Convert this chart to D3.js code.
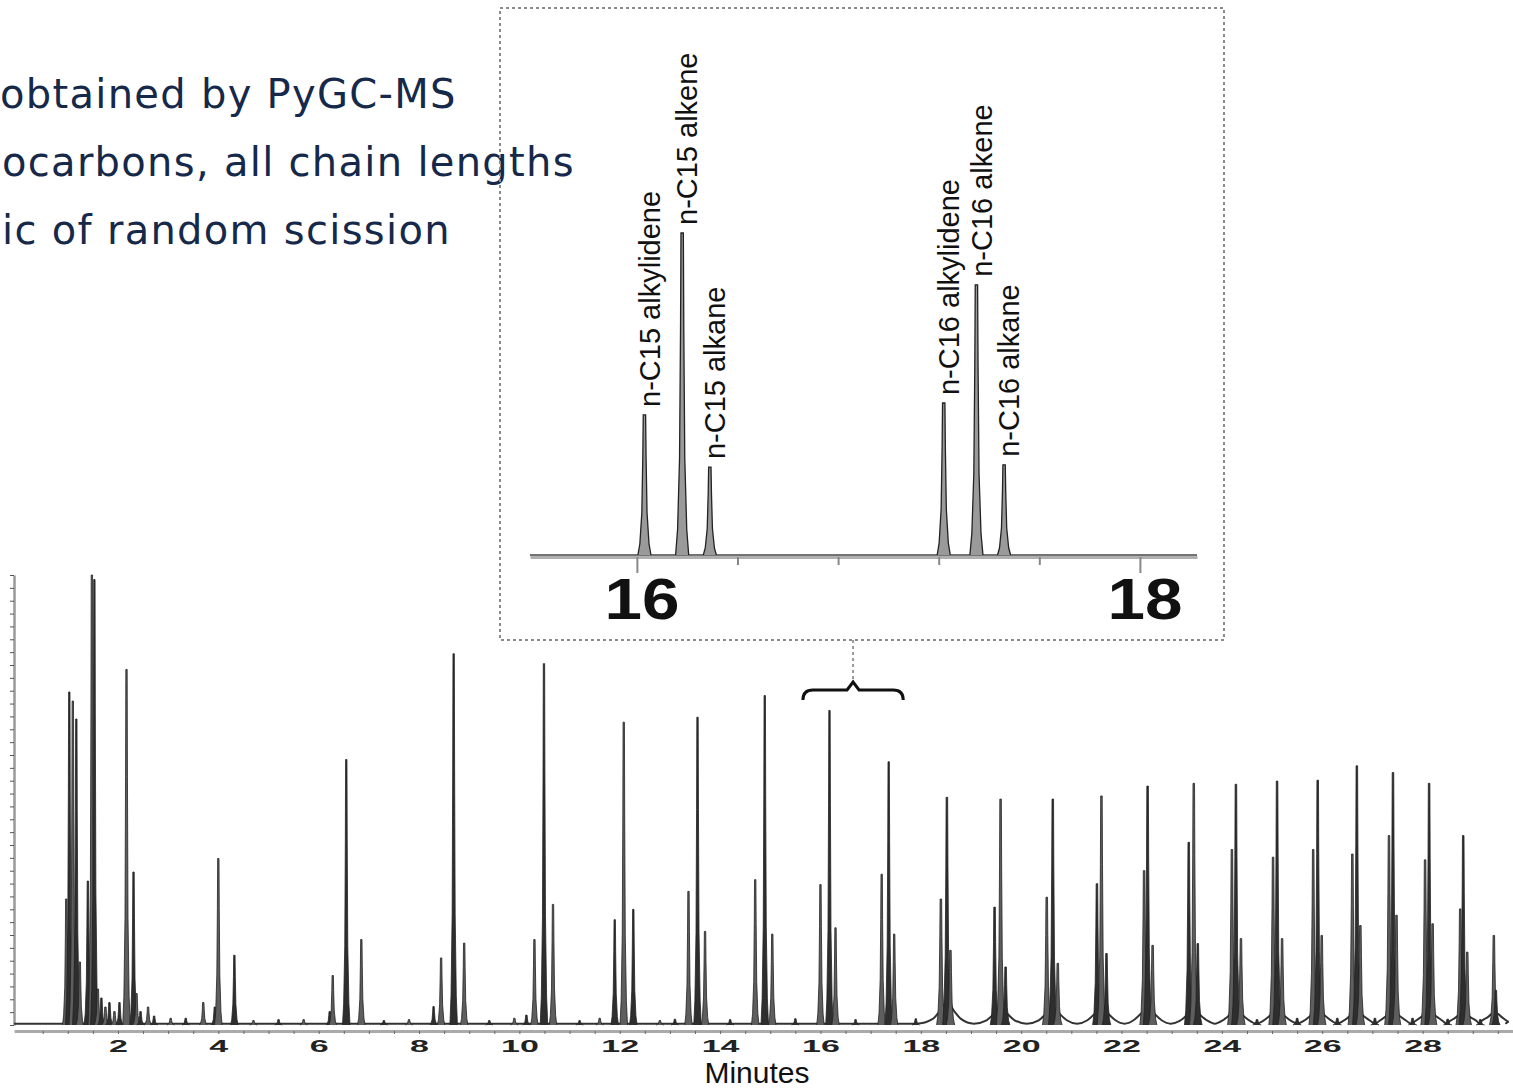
<!DOCTYPE html>
<html>
<head>
<meta charset="utf-8">
<script src="https://cdn.jsdelivr.net/npm/d3@7"></script>
<style>
body { margin: 0; background: #fff; }
svg { display: block; }
</style>
</head>
<body>
<div id="vis"></div>
<script>
const FRAME_WIDTH = 1513;
const FRAME_HEIGHT = 1089;

// slide caption (cropped on the left in the source)
const captionLines = ['obtained by PyGC-MS', 'ocarbons, all chain lengths', 'ic of random scission'];

// main pyrogram: retention time (min) and relative intensity (%)
const peakTimes = [
	0.97, 1.03, 1.10, 1.17, 1.24, 1.40, 1.48, 1.53, 1.60, 1.67, 1.75, 1.83, 1.93, 2.03,
	2.17, 2.31, 2.37, 2.45, 2.60, 2.72, 3.05, 3.35, 3.70, 3.93, 4.00, 4.32, 4.70, 5.20, 5.70,
	6.22, 6.28, 6.55, 6.85, 7.30, 7.80,
	8.29, 8.44, 8.69, 8.90, 9.40, 9.90,
	10.14, 10.30, 10.49, 10.67, 11.20, 11.60,
	11.90, 12.08, 12.27, 12.80, 13.10,
	13.37, 13.55, 13.70, 14.20,
	14.70, 14.89, 15.04, 15.50,
	16.00, 16.18, 16.30, 16.70,
	17.22, 17.36, 17.47, 17.90,
	18.40, 18.52, 18.59,
	19.47, 19.59, 19.69,
	20.51, 20.63, 20.73,
	21.51, 21.60, 21.70,
	22.45, 22.52, 22.62,
	23.34, 23.44, 23.52,
	24.20, 24.28, 24.38, 24.70,
	25.02, 25.10, 25.20, 25.50,
	25.82, 25.91, 25.99, 26.30,
	26.60, 26.69, 26.76, 27.05,
	27.33, 27.41, 27.48, 27.80,
	28.05, 28.13, 28.20, 28.50,
	28.75, 28.81, 28.89, 29.15,
	29.42, 29.46
];
const peakHeights = [
	28, 74, 72, 68, 14, 32, 100, 99, 8, 6, 4, 5, 3, 5,
	79, 34, 7, 3, 4, 2, 1.5, 1.5, 5, 4, 37, 15.5, 1, 1.2, 1.2,
	3, 11, 59, 19, 1, 1.2,
	4.1, 14.9, 82.5, 18.2, 1, 1.5,
	2.2, 19, 80.3, 26.8, 1, 1.5,
	23.4, 67.3, 25.7, 1, 1.3,
	29.7, 68.4, 20.8, 1.2,
	32.3, 73.2, 20.2, 1.4,
	31.2, 69.9, 21.6, 1.2,
	33.5, 58.5, 20.2, 1.4,
	28, 50.6, 16.6,
	26.2, 50.2, 12.9,
	28.4, 50.2, 13.7,
	31.4, 50.9, 15.9,
	34.3, 53.1, 17.7,
	40.6, 53.7, 18.1,
	39, 53.5, 19.2, 1.2,
	37.3, 54.2, 19.2, 1.5,
	39, 54.4, 19.9, 1.5,
	38, 57.6, 22.1, 1.5,
	42.1, 56.1, 24.4, 1.5,
	36.7, 53.7, 22.5, 1.3,
	25.8, 42.1, 16.2, 1.2,
	19.9, 7.7
];

// broad humps under the late peak groups
const humpTimes = [18.52, 19.59, 20.63, 21.60, 22.52, 23.44, 24.28, 25.10, 25.91, 26.69, 27.41, 28.13, 28.81, 29.44];
const humpHeights = [4.5, 3.5, 3.5, 3.5, 3.5, 3, 3, 3, 3, 2.8, 2.8, 2.8, 2.5, 2.5];

const xTickValues = [2, 4, 6, 8, 10, 12, 14, 16, 18, 20, 22, 24, 26, 28];

// inset, 15.6 - 18.2 min
const insetTimes = [16.03, 16.18, 16.29, 17.22, 17.35, 17.46];
const insetHeights = [43.5, 100, 27.3, 47.2, 83.9, 28];
const insetLabels = ['n-C15 alkylidene', 'n-C15 alkene', 'n-C15 alkane',
	'n-C16 alkylidene', 'n-C16 alkene', 'n-C16 alkane'];
const insetTickValues = [16, 18];
const insetMinorTicks = [16.4, 16.8, 17.2, 17.6];

// bracket on the main trace that the inset enlarges
const braceRange = [15.65, 17.65];

const CAPTION = {x: [0, 2, 2], y: [108, 176, 244]};
const INSET = {left: 500, top: 8, width: 724, height: 632};

const svg = d3.select('#vis')
	.append('svg')
		.attr('width', FRAME_WIDTH)
		.attr('height', FRAME_HEIGHT);

// caption
svg.append('g')
	.selectAll('text')
	.data(captionLines)
	.enter()
	.append('text')
		.attr('x', (d, i) => CAPTION.x[i])
		.attr('y', (d, i) => CAPTION.y[i])
		.attr('font-family', 'DejaVu Sans, Verdana, sans-serif')
		.attr('font-size', 40)
		.attr('letter-spacing', 1.3)
		.attr('fill', '#16294a')
		.text(d => d);

// scales
const X_SCALE = d3.scaleLinear().domain([-0.07, 29.8]).range([14.1, 1512.9]);
const Y_SCALE = d3.scaleLinear().domain([0, 100]).range([1025, 575]);

// spike outline, in units of half-width and height
const spikeShape = [[-1, 0], [-0.7, 0.08], [-0.4, 0.3], [-0.25, 0.7], [-0.18, 1],
	[0.18, 1], [0.25, 0.7], [0.4, 0.3], [0.7, 0.08], [1, 0]];
function spike(t, h, w, xs, ys) {
	return d3.line()
		.x(d => xs(t + d[0] * w))
		.y(d => ys(d[1] * h))(spikeShape);
}

// x axis (gray rule + labels)
const xAxis = svg.append('g')
	.attr('transform', 'translate(0,1031)')
	.call(d3.axisBottom(X_SCALE).tickValues(xTickValues).tickSize(0).tickSizeOuter(0).tickPadding(9));
xAxis.select('.domain').attr('stroke', '#aaa').attr('stroke-width', 3);
xAxis.selectAll('text')
	.attr('font-family', 'Liberation Sans, Arial, sans-serif')
	.attr('font-weight', 'bold')
	.attr('font-size', 17)
	.attr('fill', '#222')
	.attr('transform', 'scale(2,1)');

svg.append('g')
	.attr('transform', 'translate(0,1031)')
	.call(d3.axisBottom(X_SCALE).tickValues(d3.range(0.5, 29.6, 0.5)).tickSize(3).tickFormat(''))
	.call(g => g.select('.domain').remove())
	.selectAll('line').attr('stroke', '#666');

svg.append('text')
	.attr('x', 757)
	.attr('y', 1083)
	.attr('text-anchor', 'middle')
	.attr('font-family', 'Liberation Sans, Arial, sans-serif')
	.attr('font-size', 30)
	.attr('fill', '#111')
	.text('Minutes');

// y axis with minor ticks only
const yAxis = svg.append('g')
	.attr('transform', 'translate(14,0)')
	.call(d3.axisLeft(Y_SCALE).tickValues(d3.range(0, 100.1, 100 / 35)).tickSize(4).tickSizeOuter(0).tickFormat(''));
yAxis.select('.domain').attr('stroke', '#999').attr('stroke-width', 2.5);
yAxis.selectAll('line').attr('stroke', '#555');

// baseline trace with humps under late groups
const baseLevel = 0.3;
const humpShape = [[-0.28, 0.3], [-0.14, 0.7], [-0.05, 1], [0.05, 1], [0.14, 0.7], [0.28, 0.3]];
const basePts = [[X_SCALE.domain()[0], baseLevel], [humpTimes[0] - 0.6, baseLevel]];
humpTimes.forEach((t, i) => {
	if (i > 0) basePts.push([(humpTimes[i - 1] + t) / 2, baseLevel]);
	humpShape.forEach(s => basePts.push([t + s[0], humpHeights[i] * s[1]]));
});
basePts.push([29.65, baseLevel]);

svg.append('path')
	.attr('d', d3.line().x(d => X_SCALE(d[0])).y(d => Y_SCALE(d[1])).curve(d3.curveMonotoneX)(basePts))
	.attr('fill', 'none')
	.attr('stroke', '#333')
	.attr('stroke-width', 2);

// peaks
svg.append('g')
	.selectAll('path')
	.data(peakTimes)
	.enter()
	.append('path')
		.attr('d', (d, i) => spike(d, peakHeights[i], d > 18 ? 0.085 : 0.075, X_SCALE, Y_SCALE))
		.attr('fill', (d, i) => i % 2 ? '#2e2e2e' : '#5e5e5e')
		.attr('stroke', '#222')
		.attr('stroke-width', 0.8);

// bracket and connector to the inset
const bx0 = X_SCALE(braceRange[0]);
const bx1 = X_SCALE(braceRange[1]);
const bm = (bx0 + bx1) / 2;
svg.append('path')
	.attr('d', `M${bx0},700 Q${bx0},690 ${bx0 + 10},690 L${bm - 6},690 L${bm},682 L${bm + 6},690 L${bx1 - 10},690 Q${bx1},690 ${bx1},700`)
	.attr('fill', 'none')
	.attr('stroke', '#111')
	.attr('stroke-width', 3);

svg.append('line')
	.attr('x1', bm).attr('x2', bm)
	.attr('y1', INSET.top + INSET.height).attr('y2', 680)
	.attr('stroke', '#999')
	.attr('stroke-width', 2)
	.attr('stroke-dasharray', '3,3');

// inset frame
svg.append('rect')
	.attr('x', INSET.left)
	.attr('y', INSET.top)
	.attr('width', INSET.width)
	.attr('height', INSET.height)
	.attr('fill', 'none')
	.attr('stroke', '#8a8a8a')
	.attr('stroke-width', 2)
	.attr('stroke-dasharray', '3,3');

const IX_SCALE = d3.scaleLinear().domain([15.575, 18.227]).range([530, 1197]);
const IY_SCALE = d3.scaleLinear().domain([0, 100]).range([555, 233]);

const insetAxis = svg.append('g')
	.attr('transform', 'translate(0,557)')
	.call(d3.axisBottom(IX_SCALE).tickValues(insetTickValues).tickSize(16).tickSizeOuter(0).tickFormat(''));
insetAxis.select('.domain').attr('stroke', '#b0b0b0').attr('stroke-width', 3);
insetAxis.selectAll('line').attr('stroke', '#888').attr('stroke-width', 2);

svg.append('g')
	.attr('transform', 'translate(0,557)')
	.call(d3.axisBottom(IX_SCALE).tickValues(insetMinorTicks).tickSize(8).tickFormat(''))
	.call(g => g.select('.domain').remove())
	.selectAll('line').attr('stroke', '#888').attr('stroke-width', 2);

svg.append('g')
	.selectAll('text')
	.data(insetTickValues)
	.enter()
	.append('text')
		.attr('x', d => IX_SCALE(d) + 5)
		.attr('y', 619)
		.attr('text-anchor', 'middle')
		.attr('font-family', 'Liberation Sans, Arial, sans-serif')
		.attr('font-weight', 'bold')
		.attr('font-size', 57)
		.attr('textLength', 75)
		.attr('lengthAdjust', 'spacingAndGlyphs')
		.attr('fill', '#111')
		.text(d => d);

svg.append('line')
	.attr('x1', IX_SCALE.range()[0]).attr('x2', IX_SCALE.range()[1])
	.attr('y1', IY_SCALE(0)).attr('y2', IY_SCALE(0))
	.attr('stroke', '#444')
	.attr('stroke-width', 1.5);

svg.append('g')
	.selectAll('path')
	.data(insetTimes)
	.enter()
	.append('path')
		.attr('d', (d, i) => spike(d, insetHeights[i], 0.026, IX_SCALE, IY_SCALE))
		.attr('fill', '#9a9a9a')
		.attr('stroke', '#222')
		.attr('stroke-width', 1.3);

svg.append('g')
	.selectAll('text')
	.data(insetLabels)
	.enter()
	.append('text')
		.attr('transform', (d, i) => `translate(${IX_SCALE(insetTimes[i]) + 5},${IY_SCALE(insetHeights[i]) - 8}) rotate(-90)`)
		.attr('dy', '0.35em')
		.attr('font-family', 'Liberation Sans, Arial, sans-serif')
		.attr('font-size', 29)
		.attr('fill', '#111')
		.text(d => d);
</script>
</body>
</html>
